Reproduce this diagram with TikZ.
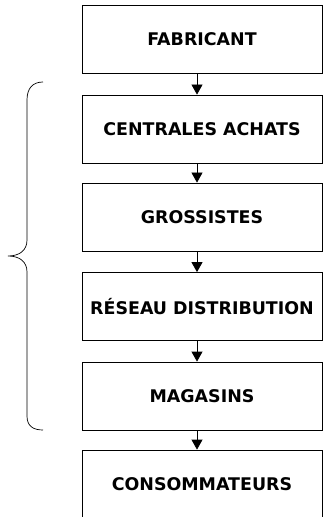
\documentclass[tikz,border=0pt]{standalone}
\usepackage{fontspec}
\setmainfont{DejaVu Sans}
\usetikzlibrary{arrows.meta}

\tikzset{
  etage/.style={draw, line width=0.8bp, minimum width=240bp, minimum height=68bp,
    inner sep=0pt, font=\bfseries\fontsize{17.5}{20}\selectfont},
  fleche/.style={line width=0.8bp, -{Triangle[width=11bp,length=10bp]}}
}

\begin{document}
\begin{tikzpicture}[x=1bp,y=-1bp]
	\useasboundingbox (0,0) rectangle (322,517);
	\node[etage] (fab) at (202,39.5) {FABRICANT};
	\node[etage] (cent) at (202,129) {CENTRALES ACHATS};
	\node[etage] (gros) at (202,217) {GROSSISTES};
	\node[etage] (res) at (202,306.5) {RÉSEAU DISTRIBUTION};
	\node[etage] (mag) at (202,396) {MAGASINS};
	\node[etage] (cons) at (202,484) {CONSOMMATEURS};
	\draw[fleche] ([xshift=-5bp]fab.south) -- ([xshift=-5bp]cent.north);
	\draw[fleche] ([xshift=-5bp]cent.south) -- ([xshift=-5bp]gros.north);
	\draw[fleche] ([xshift=-5bp]gros.south) -- ([xshift=-5bp]res.north);
	\draw[fleche] ([xshift=-5bp]res.south) -- ([xshift=-5bp]mag.north);
	\draw[fleche] ([xshift=-5bp]mag.south) -- ([xshift=-5bp]cons.north);
	% accolade
	\draw[line width=0.7bp] (43,82) .. controls (33,82) and (27,88) .. (27,100) -- (27,240)
		.. controls (27,250) and (20,256) .. (8,256)
		.. controls (20,256) and (27,262) .. (27,272) -- (27,416)
		.. controls (27,426) and (33,430) .. (43,430);
\end{tikzpicture}
\end{document}
